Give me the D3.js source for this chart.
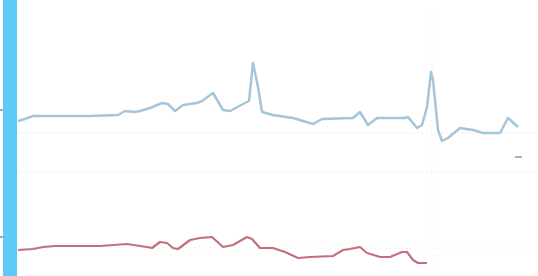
<!DOCTYPE html>
<html>
<head>
<meta charset="utf-8">
<script src="https://cdn.jsdelivr.net/npm/d3@7"></script>
<style>
  body { margin: 0; background: #fff; }
  svg { display: block; }
</style>
</head>
<body>
<div id="container"></div>
<script>
let w = 538;
let h = 276;

// blue series: [day, value]
let blueDays = [0, 3.5, 7.5, 21, 36, 50, 53.5, 58.5, 61, 66, 72, 75, 78.5, 82.5, 89.5, 92, 97.5, 102.5, 106, 113.5, 115.5, 117.5, 120, 122, 127.5, 137.5, 147.5, 152, 167.5, 171, 175, 179.5, 193.5, 195, 199.5, 202, 204.5, 206.5, 207.5, 210, 212, 215, 221, 227.5, 232.5, 241, 245, 250];
let blueVals = [74.5, 75.5, 77, 77, 77, 77.5, 79.5, 79, 79.5, 81, 83.5, 83, 79.5, 82.5, 83.5, 84.5, 88.5, 80, 79.5, 83.5, 84.5, 103.5, 91.5, 79, 77.5, 76, 73, 75.5, 76, 79, 72.5, 76, 76, 76.5, 71, 72.5, 81.5, 99, 95, 70, 64.5, 66, 71, 70, 68.5, 68.5, 76, 71.5];

// red series
let redDays = [0, 7.5, 12.5, 18.5, 41, 54.5, 64.5, 67, 71, 74.5, 77.5, 80, 86, 91, 97, 102.5, 107.5, 114.5, 117, 121, 127.5, 133.5, 140, 146, 157.5, 162.5, 166, 171, 174.5, 181, 186, 192, 194.5, 197.5, 200, 204.5];
let redVals = [10, 10.5, 11.5, 12, 12, 13, 11.5, 11, 14, 13.5, 11, 10.5, 15, 16, 16.5, 11.5, 12.5, 16.5, 15.5, 11, 11, 9, 6, 6.5, 7, 10, 10.5, 11.5, 8.5, 6.5, 6.5, 9, 9, 5, 3.5, 3.5];

let gridVals = [11, 49, 68.5];
let markerDay = 207;
let axisTicks = [16.5, 80];

let blue = blueDays.map((d, i) => [d, blueVals[i]]);
let red = redDays.map((d, i) => [d, redVals[i]]);

let svg = d3.select("#container").append("svg")
            .attr("width", w)
            .attr("height", h);

let x = d3.scaleLinear().domain([0, 250]).range([18, 518]);
let y = d3.scaleLinear().domain([0, 125]).range([270, 20]);

// faint dotted grid
svg.append("g")
   .selectAll("line")
   .data(gridVals)
   .enter()
   .append("line")
   .attr("x1", 18)
   .attr("x2", w)
   .attr("y1", d => y(d))
   .attr("y2", d => y(d))
   .attr("stroke", "#d8d8d8")
   .attr("stroke-width", 1)
   .attr("stroke-dasharray", "1,3");

svg.append("line")
   .attr("x1", x(markerDay))
   .attr("x2", x(markerDay))
   .attr("y1", 15)
   .attr("y2", h)
   .attr("stroke", "#e2e2e2")
   .attr("stroke-width", 1)
   .attr("stroke-dasharray", "1,4");

let line = d3.line()
             .x(d => x(d[0]))
             .y(d => y(d[1]));

svg.append("path")
   .datum(blue)
   .attr("fill", "none")
   .attr("stroke", "#a5c6d9")
   .attr("stroke-width", 2.5)
   .attr("stroke-linejoin", "round")
   .attr("d", line);

svg.append("path")
   .datum(red)
   .attr("fill", "none")
   .attr("stroke", "#c4707a")
   .attr("stroke-width", 2.2)
   .attr("stroke-linejoin", "round")
   .attr("d", line);

// left tick stubs and the cyan bar
svg.append("g")
   .selectAll("line")
   .data(axisTicks)
   .enter()
   .append("line")
   .attr("x1", 0)
   .attr("x2", 4)
   .attr("y1", d => y(d))
   .attr("y2", d => y(d))
   .attr("stroke", "#888")
   .attr("stroke-width", 1.5);

svg.append("rect")
   .attr("x", 3)
   .attr("y", 0)
   .attr("width", 14)
   .attr("height", h)
   .attr("fill", "#5ccbf6");

svg.append("line")
   .attr("x1", 515)
   .attr("x2", 522)
   .attr("y1", 157)
   .attr("y2", 157)
   .attr("stroke", "#999")
   .attr("stroke-width", 1.5);
</script>
</body>
</html>
